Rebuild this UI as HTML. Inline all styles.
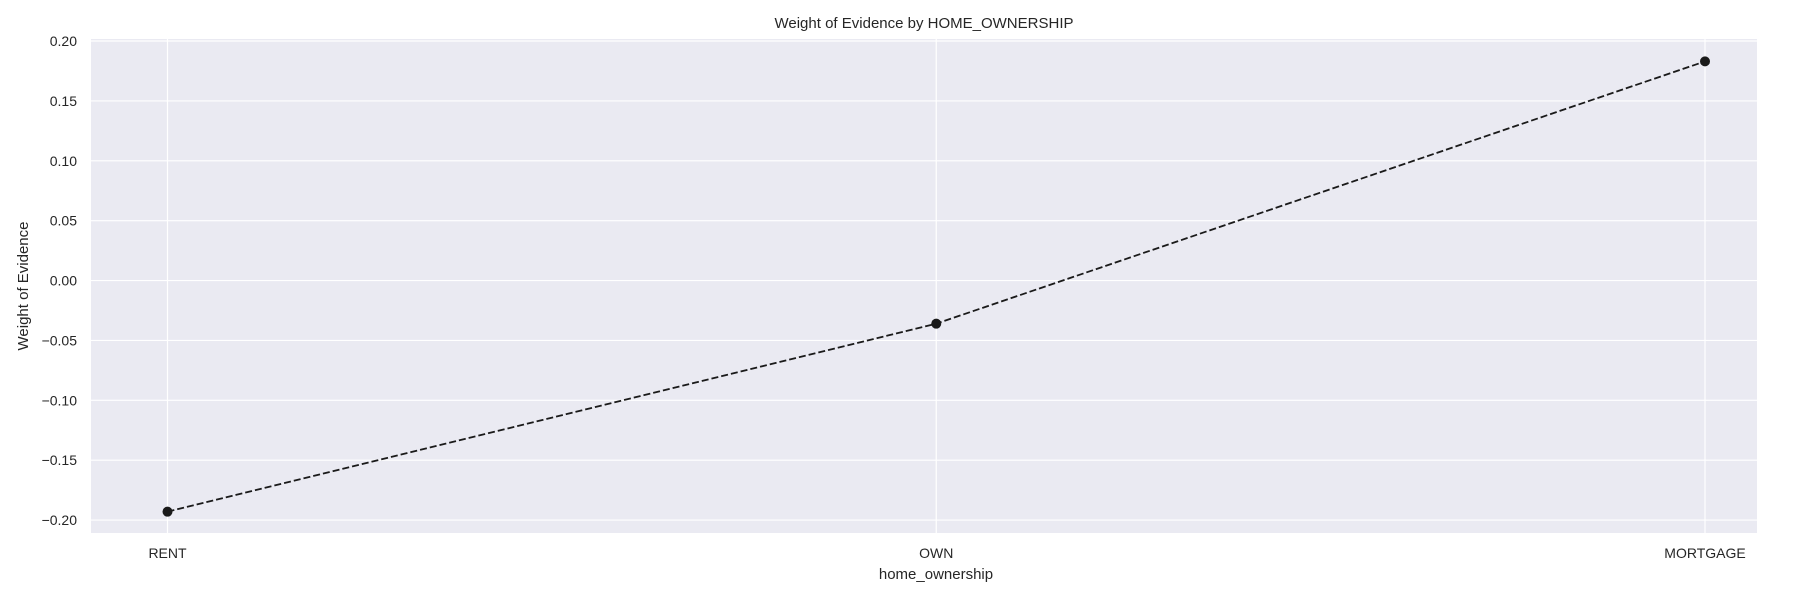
<!DOCTYPE html>
<html><head><meta charset="utf-8"><style>
body{margin:0;background:#fff;font-family:"Liberation Sans",sans-serif;}
svg text{font-family:"Liberation Sans",sans-serif;fill:#262626;}
</style></head><body>
<svg id="chart" width="1800" height="600" xmlns="http://www.w3.org/2000/svg">
<rect x="91" y="39" width="1666" height="494" fill="#eaeaf2"/>
<g id="grid"></g>
<g id="marks"></g>
<text x="924" y="28" font-size="15" text-anchor="middle">Weight of Evidence by HOME_OWNERSHIP</text>
<text x="936" y="579" font-size="15" text-anchor="middle">home_ownership</text>
<text transform="translate(28,286) rotate(-90)" font-size="15" text-anchor="middle">Weight of Evidence</text>
</svg>
<script>
const categories = ["RENT","OWN","MORTGAGE"];
const woeValues = [-0.193, -0.036, 0.183];
const yTicks = [-0.20,-0.15,-0.10,-0.05,0.00,0.05,0.10,0.15,0.20];
const NS="http://www.w3.org/2000/svg";
const L=91,R=1757,T=39,B=533,yMin=-0.2108,yMax=0.2017;
const xPos=i=>167.5+i*(1705-167.5)/(categories.length-1);
const yPos=v=>B-(v-yMin)/(yMax-yMin)*(B-T);
const grid=document.getElementById('grid'),marks=document.getElementById('marks'),svg=document.getElementById('chart');
function mk(t,a,p){const e=document.createElementNS(NS,t);for(const k in a)e.setAttribute(k,a[k]);p.appendChild(e);return e;}
yTicks.forEach(v=>{
 const y=yPos(v);
 const g=mk('line',{x1:L,x2:R,y1:y,y2:y,stroke:'#fff','stroke-width':1.2},grid);
 
 
 const t=mk('text',{x:77,y:y+5,'font-size':14,'text-anchor':'end'},svg);
 t.textContent=(v<0?'\u2212':'')+Math.abs(v).toFixed(2);
 
 
});
categories.forEach((c,i)=>{
 const x=xPos(i);
 const g=mk('line',{x1:x,x2:x,y1:T,y2:B,stroke:'#fff','stroke-width':1.2},grid);
 
 
 const t=mk('text',{x:x,y:558,'font-size':14,'text-anchor':'middle'},svg);
 t.textContent=c;
 
 
});
const pts=woeValues.map((v,i)=>xPos(i)+','+yPos(v)).join(' ');
const line=mk('polyline',{points:pts,fill:'none',stroke:'#1a1a1a','stroke-width':1.8,'stroke-dasharray':'7,3'},marks);


woeValues.forEach((v,i)=>{
 const c=mk('circle',{cx:xPos(i),cy:yPos(v),r:5,fill:'#1a1a1a'},marks);
 
 
});
</script>
</body></html>
